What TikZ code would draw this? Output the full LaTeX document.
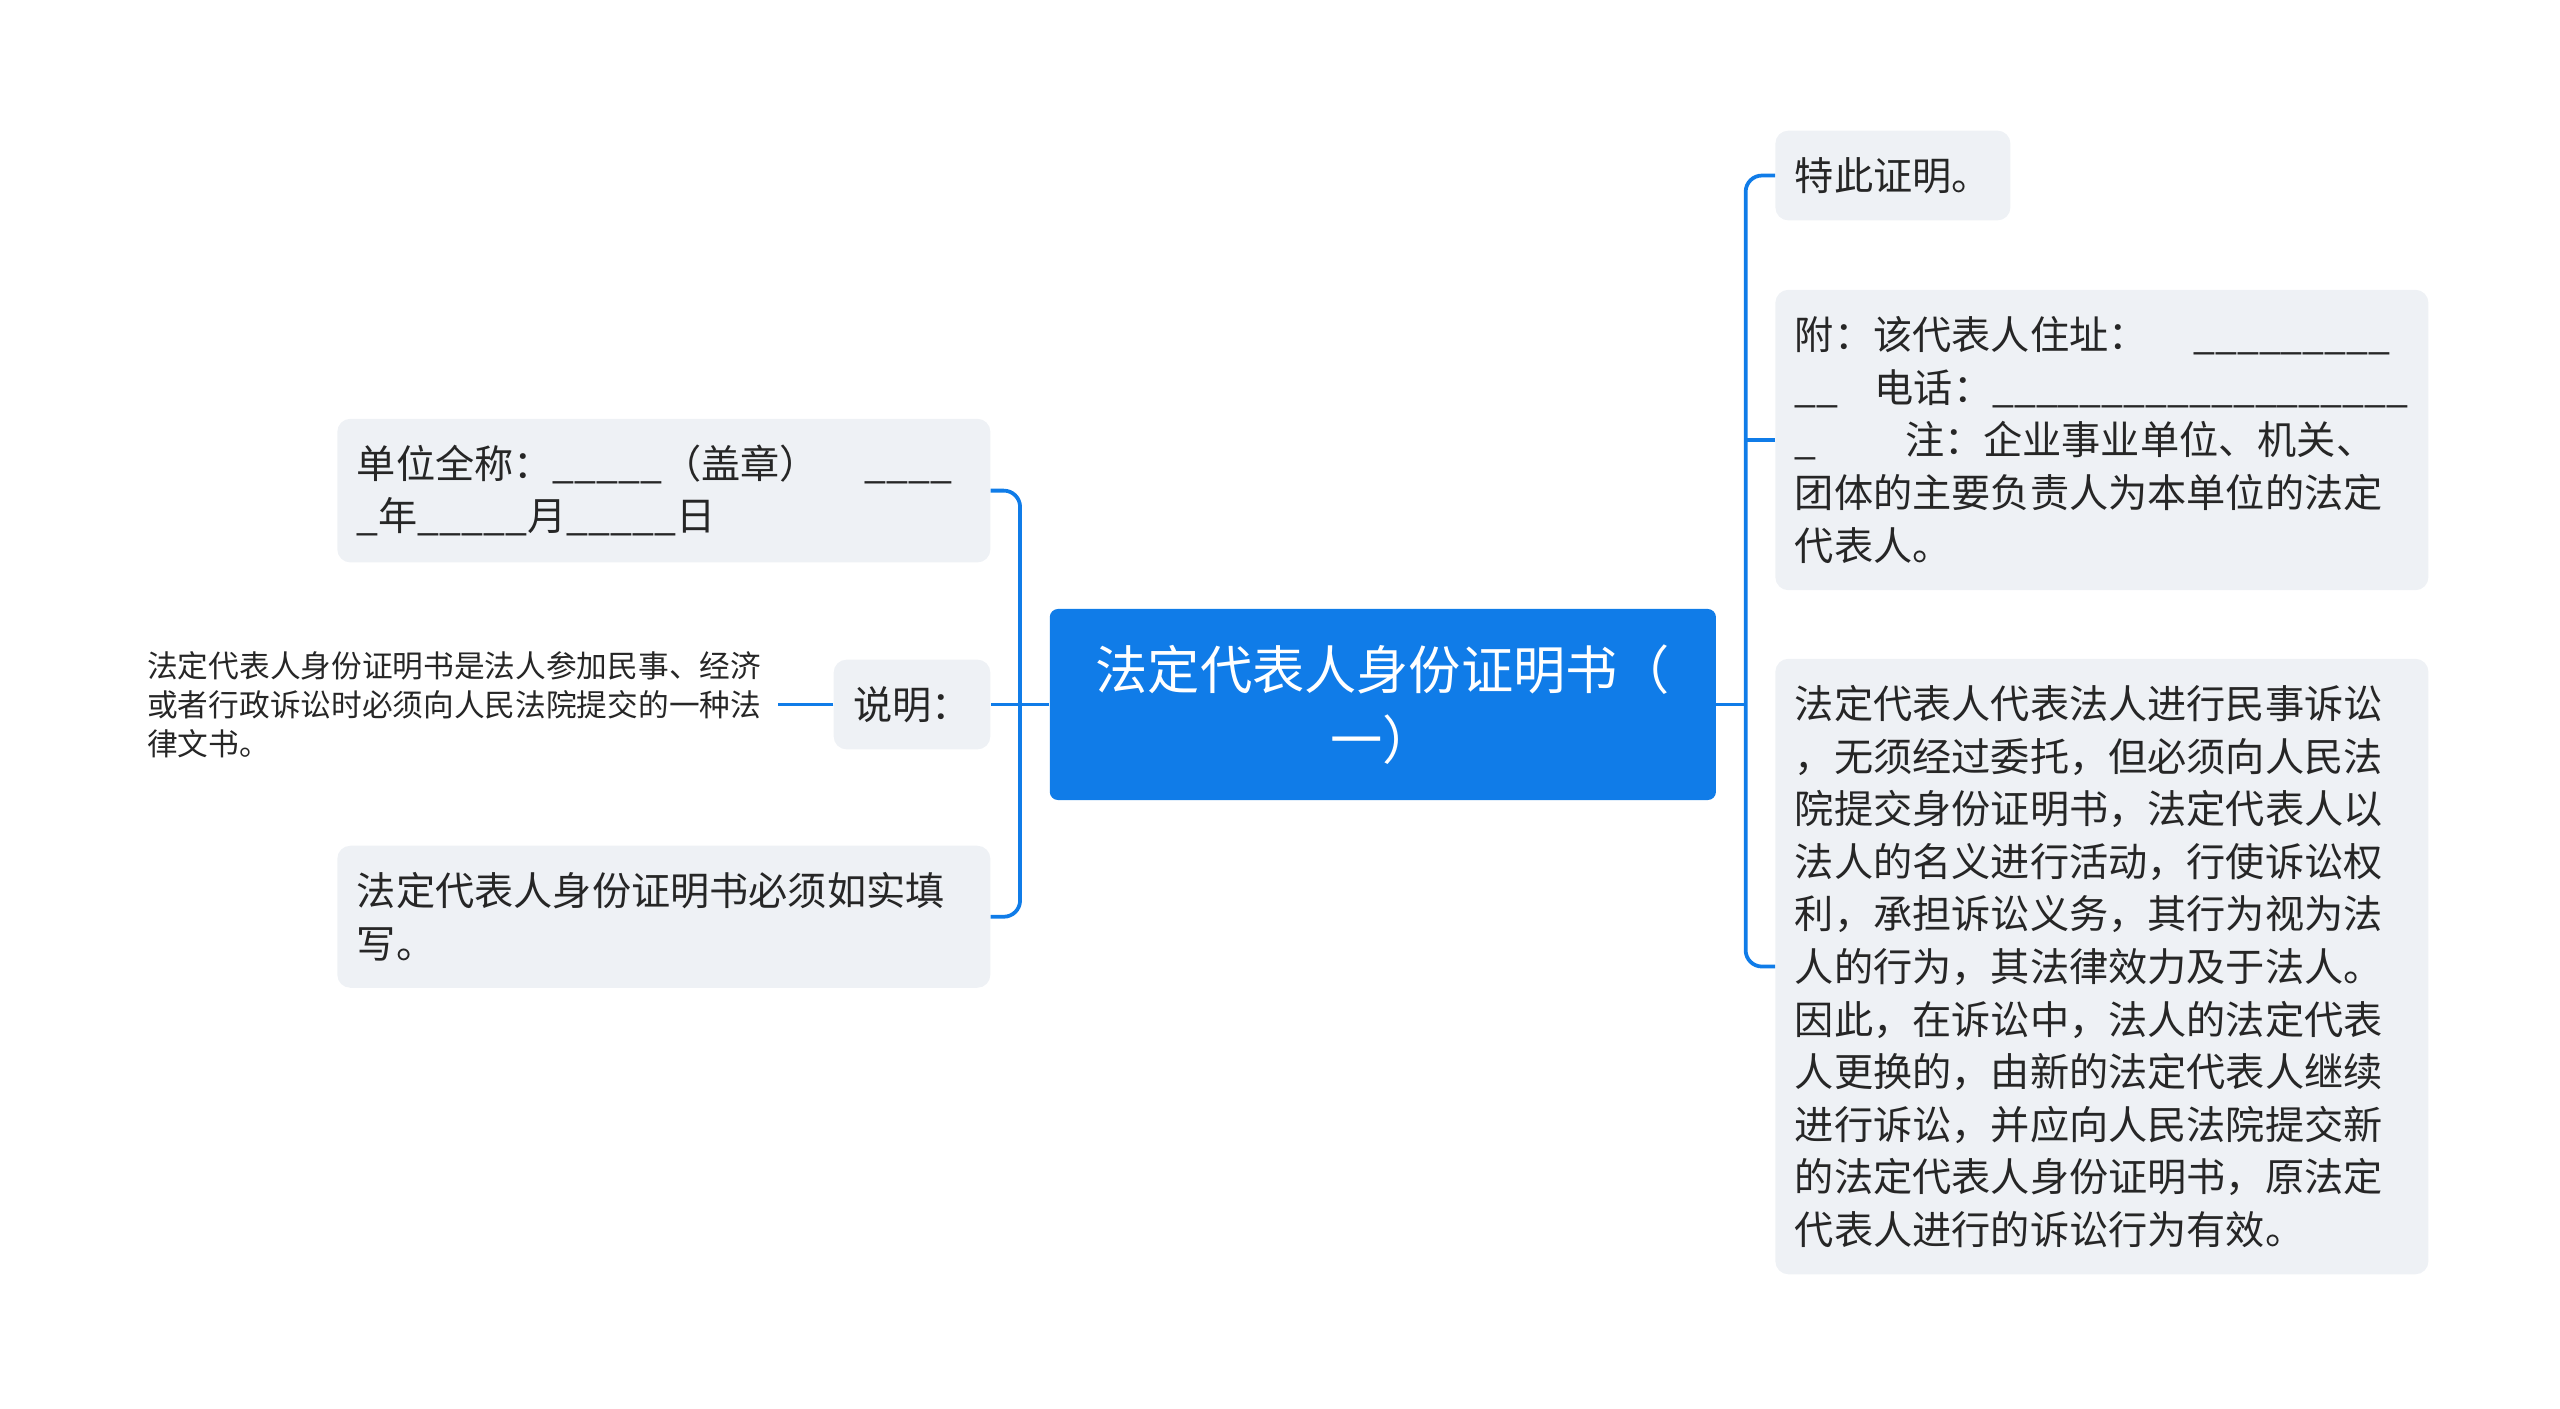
\documentclass[tikz,border=0pt]{standalone}
\usepackage{fontspec}
\setmainfont{Noto Sans CJK SC}
\usepackage{tikz}
\usetikzlibrary{positioning}
\definecolor{stblue}{RGB}{16,124,232}
\definecolor{stgray}{RGB}{238,241,245}
\definecolor{sttext}{RGB}{38,38,38}

\begin{document}
\begin{tikzpicture}[
  root/.style={rectangle, fill=stblue, text=white, rounded corners=5pt, minimum width=408pt, minimum height=117pt, align=center, font=\fontsize{32}{43}\selectfont},
  topic/.style={rectangle, fill=stgray, text=sttext, rounded corners=8pt, inner xsep=12pt, inner ysep=6pt, align=left, font=\fontsize{24}{32.2}\selectfont},
  wide/.style={topic, text width=376pt},
  aside/.style={inner xsep=10pt, text=sttext, align=left, font=\fontsize{18.8}{24}\selectfont},
  link/.style={draw=stblue, line width=2.3pt, rounded corners=10pt}
]
\useasboundingbox (0pt,0pt) rectangle (1568pt,-863pt);

\node[root] (root) at (847pt,-431.5pt) {法定代表人身份证明书（\\一）};

% left side
\node[wide, left=36pt of root.west, yshift=131pt, minimum height=88pt] (unit) {单位全称：\_\_\_\_\_（盖章）\hspace{28pt}\_\_\_\_\\\_年\_\_\_\_\_月\_\_\_\_\_日};
\node[topic, left=36pt of root.west, minimum height=55pt] (note) {说明：};
\node[aside, left=34pt of note.west] (expl) {法定代表人身份证明书是法人参加民事、经济\\或者行政诉讼时必须向人民法院提交的一种法\\律文书。};
\node[wide, left=36pt of root.west, yshift=-130pt, minimum height=87pt] (fill) {法定代表人身份证明书必须如实填\\写。};

% right side
\node[topic, right=36pt of root.east, yshift=324pt, minimum height=55pt] (proof) {特此证明。};
\node[wide, right=36pt of root.east, yshift=162pt, minimum height=184pt] (addr) {附：该代表人住址：\hspace{28pt}\_\_\_\_\_\_\_\_\_\\\_\_\hspace{22pt}电话：\_\_\_\_\_\_\_\_\_\_\_\_\_\_\_\_\_\_\_\\\_\hspace{54pt}注：企业事业单位、机关、\\团体的主要负责人为本单位的法定\\代表人。};
\node[wide, right=36pt of root.east, yshift=-160.5pt, minimum height=377pt] (act) {法定代表人代表法人进行民事诉讼\\，无须经过委托，但必须向人民法\\院提交身份证明书，法定代表人以\\法人的名义进行活动，行使诉讼权\\利，承担诉讼义务，其行为视为法\\人的行为，其法律效力及于法人。\\因此，在诉讼中，法人的法定代表\\人更换的，由新的法定代表人继续\\进行诉讼，并应向人民法院提交新\\的法定代表人身份证明书，原法定\\代表人进行的诉讼行为有效。};

\path (root.east) -- ++(18pt,0) coordinate (rj);

\draw[link] (unit.east) -- ++(18pt,0) |- (fill.east);
\draw[link] (root.west) -- (note.east);
\draw[link] (note.west) -- (expl.east);
\draw[link] (proof.west) -- ++(-18pt,0) |- (act.west);
\draw[link] (root.east) -- (rj);
\draw[link] (addr.west) -- (addr.west -| rj);

\end{tikzpicture}
\end{document}
